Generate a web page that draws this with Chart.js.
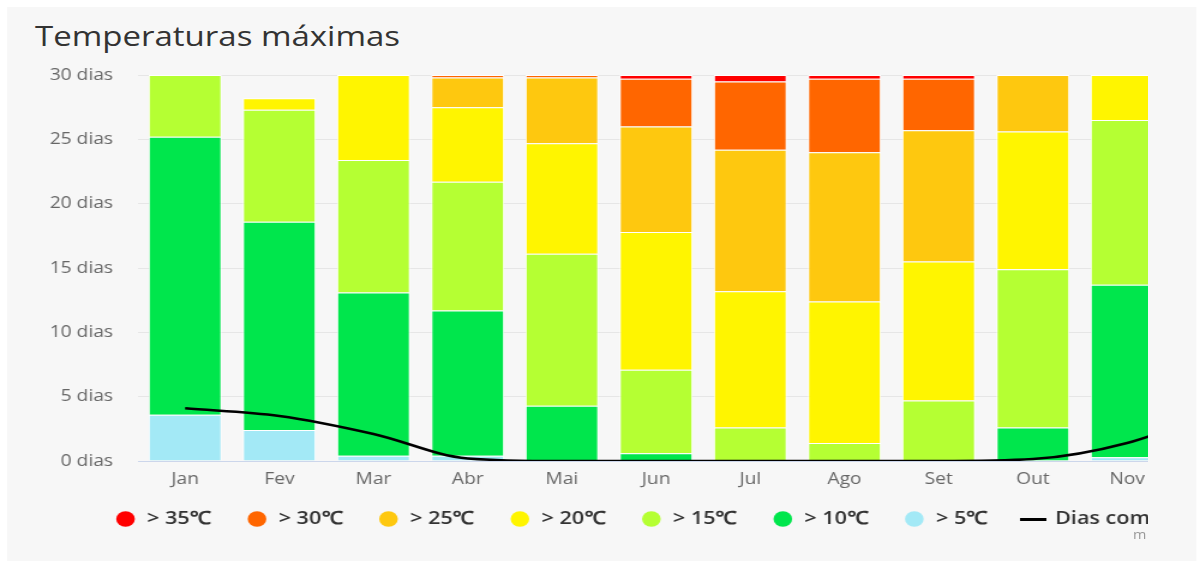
<!DOCTYPE html>
<html>
<head>
<meta charset="utf-8">
<script src="https://cdn.jsdelivr.net/npm/chart.js@4.4.1/dist/chart.umd.min.js"></script>
<style>
  html, body { margin: 0; padding: 0; background: #ffffff; overflow: hidden; }
  #stage { position: absolute; left: 0; top: 0; width: 998.33px; height: 561px; transform: scaleX(1.2); transform-origin: 0 0; }
  #panel { position: absolute; left: 5.83px; top: 7px; width: 990.8px; height: 554px; background: #f7f7f7; }
  #title { position: absolute; left: 29.2px; top: 22px; font-family: "Open Sans", sans-serif; font-size: 27.5px; line-height: 1; color: #333333; white-space: nowrap; }
  #clip { position: absolute; left: 0; top: 0; width: 955.83px; height: 561px; overflow: hidden; }
  #c { position: absolute; left: 0; top: 44px; width: 1177px; height: 517px; }
  #credit { position: absolute; left: 944.2px; top: 529px; font-family: "Open Sans", sans-serif; font-size: 12px; line-height: 1; color: #999999; white-space: nowrap; }
</style>
</head>
<body>
<div id="stage">
  <div id="panel"></div>
  <div id="title">Temperaturas máximas</div>
  <div id="clip">
    <canvas id="c" width="1177" height="517"></canvas>
    <div id="credit">m</div>
  </div>
</div>
<script>
const months = ['Jan', 'Fev', 'Mar', 'Abr', 'Mai', 'Jun', 'Jul', 'Ago', 'Set', 'Out', 'Nov', 'Dez'];
const tickSuffix = ' dias';

// days per month in each max-temperature band (stacked bottom -> top)
const over5  = [3.6, 2.4, 0.4, 0.4, 0, 0, 0, 0, 0, 0, 0.3, 2.5];
const over10 = [21.6, 16.2, 12.7, 11.3, 4.3, 0.6, 0, 0, 0, 2.6, 13.4, 20.5];
const over15 = [4.8, 8.7, 10.3, 10.0, 11.8, 6.5, 2.6, 1.4, 4.7, 12.3, 12.8, 7.0];
const over20 = [0, 0.9, 6.6, 5.8, 8.6, 10.7, 10.6, 11.0, 10.8, 10.7, 3.5, 0];
const over25 = [0, 0, 0, 2.3, 5.1, 8.2, 11.0, 11.6, 10.2, 4.4, 0, 0];
const over30 = [0, 0, 0, 0.2, 0.2, 3.7, 5.3, 5.7, 4.0, 0, 0, 0];
const over35 = [0, 0, 0, 0, 0, 0.3, 0.5, 0.3, 0.3, 0, 0, 0];
const frostDays = [4.1, 3.5, 2.1, 0.2, 0, 0, 0, 0, 0, 0.15, 1.4, 4.0];

const bandLabels = ['> 5℃', '> 10℃', '> 15℃', '> 20℃', '> 25℃', '> 30℃', '> 35℃'];
const bandColors = ['#a3e9f6', '#00e64c', '#b5ff33', '#fff500', '#fec80f', '#ff6600', '#ff0000'];
const bandData = [over5, over10, over15, over20, over25, over30, over35];
const lineLabel = 'Dias com geada';

const nz = arr => arr.map(v => (v === 0 ? null : v));

const datasets = bandData.map((d, i) => ({
  type: 'bar',
  label: bandLabels[i],
  data: nz(d),
  backgroundColor: bandColors[i],
  borderColor: '#ffffff',
  borderWidth: 1,
  borderSkipped: 'start',
  barPercentage: 0.775,
  categoryPercentage: 1,
  stack: 'bands'
}));
datasets.push({
  type: 'line',
  label: lineLabel,
  data: frostDays,
  borderColor: '#000000',
  backgroundColor: '#000000',
  borderWidth: 2.5,
  pointRadius: 0,
  cubicInterpolationMode: 'monotone',
  stack: 'frost',
  order: -1
});

const lineIcon = document.createElement('canvas');
lineIcon.width = 22; lineIcon.height = 3;
(function () { const g = lineIcon.getContext('2d'); g.fillStyle = '#000'; g.fillRect(0, 0, 22, 3); })();

const FONT = '"Open Sans", sans-serif';

// moves the bottom legend to where the reference places it
const legendShift = {
  id: 'legendShift',
  afterLayout(chart) {
    const lg = chart.legend;
    lg.left += 36.6; lg.right += 36.6;
    lg.top -= 8; lg.bottom -= 8;
  }
};

new Chart(document.getElementById('c'), {
  type: 'bar',
  data: { labels: months, datasets },
  plugins: [legendShift],
  options: {
    responsive: false,
    animation: false,
    devicePixelRatio: 1,
    layout: { padding: { left: 30, top: 31, right: 0, bottom: 15 } },
    scales: {
      x: {
        stacked: true,
        offset: true,
        grid: { display: false, drawTicks: false },
        border: { display: true, color: '#ccd6eb', width: 1 },
        ticks: { color: '#666666', font: { family: FONT, size: 16 }, padding: 8.4, maxRotation: 0, autoSkip: false },
        afterFit(s) { s.height = 28; }
      },
      y: {
        stacked: true,
        min: 0, max: 30,
        grid: { color: '#e6e6e6', lineWidth: 1, drawTicks: false },
        border: { display: false },
        ticks: { stepSize: 5, color: '#666666', font: { family: FONT, size: 16 }, padding: 20.8,
                 callback: v => v + tickSuffix },
        afterFit(s) { s.width = 85; }
      },
      y2: {
        position: 'right',
        display: true,
        grid: { display: false },
        border: { display: false },
        ticks: { display: false },
        afterFit(s) { s.width = 120; }
      }
    },
    plugins: {
      title: { display: false },
      tooltip: { enabled: false },
      legend: {
        position: 'bottom',
        align: 'start',
        labels: {
          usePointStyle: true,
          boxHeight: 11,
          padding: 29,
          color: '#333333',
          font: { family: FONT, size: 18, weight: '600' },
          generateLabels(chart) {
            const items = Chart.defaults.plugins.legend.labels.generateLabels(chart);
            items.forEach(it => {
              const ds = chart.data.datasets[it.datasetIndex];
              if (ds.type === 'line') {
                it.pointStyle = lineIcon;
              } else {
                it.pointStyle = 'circle';
                it.strokeStyle = ds.backgroundColor;
                it.lineWidth = 0;
              }
            });
            return items;
          },
          sort(a, b) {
            const rank = it => (it.datasetIndex === 7 ? 100 : 10 - it.datasetIndex);
            return rank(a) - rank(b);
          }
        }
      }
    }
  }
});
</script>
</body>
</html>
